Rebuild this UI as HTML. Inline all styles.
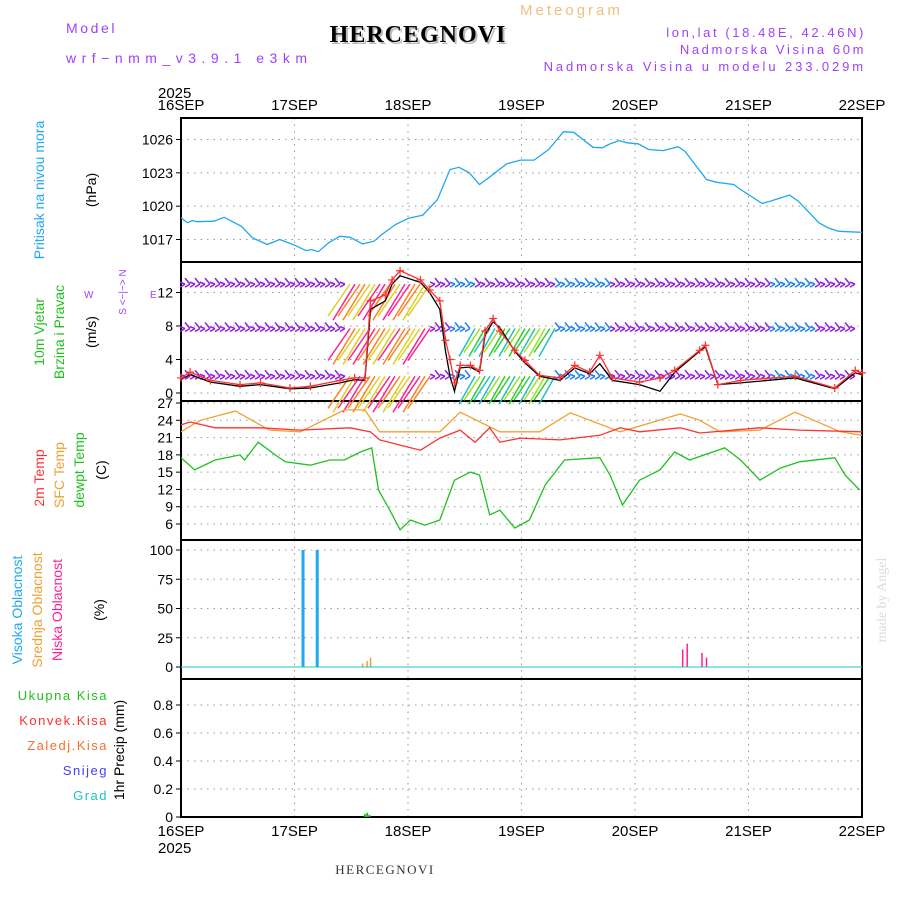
<!DOCTYPE html>
<html><head><meta charset="utf-8"><style>
body{margin:0;background:#fff;}
svg{display:block;font-family:"Liberation Sans",sans-serif;}
</style></head><body>
<svg id="c" width="900" height="900" xmlns="http://www.w3.org/2000/svg">
<g>
<text x="66" y="33" font-size="14" fill="#a040ff" letter-spacing="2.6">Model</text>
<text x="66" y="63" font-size="14" fill="#a040ff" letter-spacing="5.5">wrf−nmm_v3.9.1 e3km</text>
<text x="520" y="15" font-size="15" fill="#f0c080" letter-spacing="3">Meteogram</text>
<text x="420" y="44" font-size="24" font-weight="bold" font-family="Liberation Serif,serif" fill="#bbb" text-anchor="middle" letter-spacing="1">HERCEGNOVI</text>
<text x="418" y="42" font-size="24" font-weight="bold" font-family="Liberation Serif,serif" fill="#000" text-anchor="middle" letter-spacing="1">HERCEGNOVI</text>
<text x="866" y="37" font-size="13" fill="#a040ff" text-anchor="end" letter-spacing="2.6">lon,lat (18.48E, 42.46N)</text>
<text x="866" y="54" font-size="13" fill="#a040ff" text-anchor="end" letter-spacing="2.6">Nadmorska Visina 60m</text>
<text x="866" y="71" font-size="13" fill="#a040ff" text-anchor="end" letter-spacing="2.9">Nadmorska Visina u modelu 233.029m</text>
<text x="158" y="98" font-size="15">2025</text>
<text x="158" y="853" font-size="15">2025</text>
<text x="385" y="874" font-size="13" font-family="Liberation Serif,serif" fill="#333" text-anchor="middle" letter-spacing="1.5">HERCEGNOVI</text>
<text transform="translate(886,600) rotate(-90)" font-size="14" font-family="Liberation Serif,serif" fill="#d8e0d8" text-anchor="middle">made by Angel</text>
</g>
<g id="axes"></g>
<g id="marks"></g>
<g font-size="14">
<text transform="translate(44,190) rotate(-90)" fill="#20a8f0" text-anchor="middle">Pritisak na nivou mora</text>
<text transform="translate(96,190) rotate(-90)" text-anchor="middle">(hPa)</text>
<text transform="translate(44,332) rotate(-90)" fill="#20c020" text-anchor="middle">10m Vjetar</text>
<text transform="translate(64,332) rotate(-90)" fill="#20c020" text-anchor="middle">Brzina i Pravac</text>
<text transform="translate(96,332) rotate(-90)" text-anchor="middle">(m/s)</text>
<text transform="translate(126,292) rotate(-90)" font-size="10" fill="#a040ff" text-anchor="middle">S &lt;−|−&gt; N</text>
<text x="84" y="298" font-size="10" fill="#a040ff">W</text>
<text x="150" y="298" font-size="10" fill="#a040ff">E</text>
<text transform="translate(44,478) rotate(-90)" fill="#ff3030" text-anchor="middle">2m Temp</text>
<text transform="translate(64,475) rotate(-90)" fill="#f0a030" text-anchor="middle">SFC Temp</text>
<text transform="translate(84,470) rotate(-90)" fill="#20c020" text-anchor="middle">dewpt Temp</text>
<text transform="translate(106,470) rotate(-90)" text-anchor="middle">(C)</text>
<text transform="translate(22,610) rotate(-90)" fill="#20a8f0" text-anchor="middle">Visoka Oblacnost</text>
<text transform="translate(42,610) rotate(-90)" fill="#f0a030" text-anchor="middle">Srednja Oblacnost</text>
<text transform="translate(62,610) rotate(-90)" fill="#ff2090" text-anchor="middle">Niska Oblacnost</text>
<text transform="translate(104,610) rotate(-90)" text-anchor="middle">(%)</text>
<g font-size="13">
<text x="108" y="700" fill="#20c020" text-anchor="end" letter-spacing="1.5">Ukupna Kisa</text>
<text x="108" y="725" fill="#ff3030" text-anchor="end" letter-spacing="1.5">Konvek.Kisa</text>
<text x="108" y="750" fill="#f07030" text-anchor="end" letter-spacing="1.5">Zaledj.Kisa</text>
<text x="108" y="775" fill="#4040ff" text-anchor="end" letter-spacing="1.5">Snijeg</text>
<text x="108" y="800" fill="#20c0c0" text-anchor="end" letter-spacing="1.5">Grad</text>
</g>
<text transform="translate(124,750) rotate(-90)" text-anchor="middle">1hr Precip (mm)</text>
</g>
</svg>
<script>
const dayLabels=["16SEP","17SEP","18SEP","19SEP","20SEP","21SEP","22SEP"];
const presT=[0,.056,.1,.14,.29,.38,.53,.63,.76,.87,1.0,1.1,1.15,1.21,1.30,1.40,1.49,1.6,1.7,1.77,1.89,2.0,2.13,2.26,2.37,2.45,2.54,2.63,2.71,2.87,2.99,3.11,3.24,3.37,3.46,3.63,3.71,3.78,3.86,3.93,4.03,4.12,4.25,4.38,4.44,4.63,4.72,4.87,4.93,5.12,5.19,5.36,5.44,5.62,5.70,5.79,5.87,6.0];
const presV=[1018.95,1018.5,1018.7,1018.6,1018.65,1019.0,1018.2,1017.15,1016.55,1017,1016.5,1016.0,1016.1,1015.9,1016.7,1017.3,1017.2,1016.6,1016.85,1017.45,1018.35,1018.9,1019.2,1020.6,1023.3,1023.5,1023.0,1021.95,1022.55,1023.8,1024.15,1024.15,1025.1,1026.7,1026.65,1025.3,1025.25,1025.6,1025.9,1025.7,1025.6,1025.1,1025.0,1025.35,1024.95,1022.4,1022.15,1021.95,1021.5,1020.25,1020.45,1021,1020.45,1018.5,1018.05,1017.75,1017.7,1017.65];
const windT=[0,.08,.26,.52,.70,.96,1.14,1.40,1.53,1.62,1.67,1.80,1.86,1.93,2.11,2.19,2.28,2.33,2.37,2.41,2.46,2.55,2.63,2.68,2.75,2.81,2.94,3.03,3.16,3.34,3.47,3.60,3.69,3.80,4.04,4.22,4.35,4.57,4.62,4.73,4.93,5.41,5.76,5.94,6];
const windV=[1.8,2.5,1.5,1.0,1.2,.6,.8,1.5,1.8,1.8,11,11.7,13.5,14.6,13.5,12.3,11,6.3,4,1.2,3.3,3.3,2.7,7.4,8.9,7.4,5.1,3.9,2.1,1.8,3.3,2.5,4.5,1.8,1.3,1.8,2.7,5.1,5.7,1,1.5,2.0,.6,2.7,2.4];
const gustV=[1.6,2.2,1.3,0.8,1.0,.5,.6,1.2,1.6,1.5,10,11,13,14,13.2,12,10,5,2,0.2,3,3.1,2.5,7,8.5,7.8,5,3.6,2,1.5,3,2.3,3.5,1.5,1.0,0.2,2.5,5,5.5,1,1.2,1.8,.5,2.4,2.2];
const t2T=[0,.08,.30,.70,1.05,1.49,1.67,1.75,1.93,2.11,2.28,2.46,2.59,2.72,2.81,2.99,3.34,3.69,3.87,4.04,4.40,4.57,5.10,5.45,6.0];
const t2V=[23.2,23.7,22.7,22.7,22.3,22.7,22.0,20.6,19.7,18.8,20.9,22.3,20.2,22.7,20.2,20.9,20.6,21.4,22.7,22.0,22.7,21.8,22.7,22.3,22.0];
const sfcT=[0,.17,.48,.78,1.05,1.44,1.62,1.75,2.28,2.46,2.81,3.16,3.43,3.87,4.40,4.57,4.75,5.10,5.41,5.81,6.0];
const sfcV=[22,24,25.6,22.3,22,25.8,25.8,22,22,25.4,22,22,25.3,22,25.1,24,22,22.3,25.4,22,21.4];
const dewT=[0,.12,.30,.52,.56,.68,.83,.92,1.14,1.31,1.44,1.58,1.68,1.74,1.84,1.93,2.02,2.15,2.28,2.41,2.55,2.63,2.72,2.81,2.94,3.07,3.21,3.38,3.69,3.78,3.89,4.04,4.22,4.35,4.48,4.79,4.93,5.10,5.28,5.45,5.76,5.85,5.98];
const dewV=[17.5,15.4,17.1,18,17.1,20.2,18,16.8,16.2,17.1,17.1,18.5,19.2,11.9,8.4,5,6.7,5.8,6.7,13.6,15,14.5,7.6,8.4,5.3,6.7,12.8,17.1,17.5,14.5,9.3,13.6,15.4,18.5,17.1,19.2,17.1,13.6,15.7,16.8,17.5,14.5,11.9];
const highCloudT=[1.075,1.2];const highCloudV=[100,100];
const midCloudT=[1.6,1.64,1.67];const midCloudV=[3,5,8];
const lowCloudT=[4.42,4.46,4.59,4.63];const lowCloudV=[15,20,12,8];
const precipT=[1.62,1.64,1.66];const precipV=[0.02,0.03,0.015];
const presTicks=[1017,1020,1023,1026],windTicks=[0,4,8,12],tempTicks=[6,9,12,15,18,21,24,27],cloudTicks=[0,25,50,75,100],precipTicks=[0,0.2,0.4,0.6,0.8];

const NS="http://www.w3.org/2000/svg";
const X0=181,X1=862;
const x=d=>X0+(X1-X0)*d/6;
const lin=(v0,y0,v1,y1)=>v=>y0+(v-v0)*(y1-y0)/(v1-v0);
const yP=lin(1017,239.5,1026,139.5),yW=lin(0,393,12,292.5),yT=lin(6,524,27,403),yC=lin(0,667,100,550),yR=lin(0,817,0.8,705);
const axes=document.getElementById('axes'),marks=document.getElementById('marks');
function el(tag,attrs,parent){const e=document.createElementNS(NS,tag);for(const k in attrs)e.setAttribute(k,attrs[k]);(parent||marks).appendChild(e);return e;}
const panels=[[118,262,presTicks,yP,'pressure'],[262,401,windTicks,yW,'wind'],[401,540,tempTicks,yT,'temp'],[540,679,cloudTicks,yC,'cloud'],[679,817,precipTicks,yR,'precip']];
panels.forEach(([t,b,ticks,f,nm])=>{
  for(let i=1;i<6;i++){const g=el('line',{x1:x(i),x2:x(i),y1:t,y2:b,stroke:'#999','stroke-dasharray':'1.5,5'},axes);
    }
  ticks.forEach(v=>{const y=f(v);
    const g=el('line',{x1:X0,x2:X1,y1:y,y2:y,stroke:'#999','stroke-dasharray':'1.5,5'},axes);
    
    const tk=el('line',{x1:X0-5,x2:X0,y1:y,y2:y,stroke:'#000'},axes);
    
    const lb=el('text',{x:X0-8,y:y+5,'font-size':14,'text-anchor':'end'},axes);lb.textContent=v;
    });
  const r=el('rect',{x:X0,y:t,width:X1-X0,height:b-t,fill:'none',stroke:'#000','stroke-width':2},axes);
  
});
dayLabels.forEach((s,i)=>{[[110,'top'],[836,'bottom']].forEach(([y,p])=>{
  const l=el('text',{x:x(i),y:y,'font-size':15,'text-anchor':'middle'},axes);l.textContent=s;
  });});
function line(T,V,f,col,name,w){const d=T.map((t,i)=>(i?'L':'M')+x(t).toFixed(1)+','+f(V[i]).toFixed(1)).join('');
  const p=el('path',{d:d,fill:'none',stroke:col,'stroke-width':w||1.3});return p;}
line(presT,presV,yP,'#20a8f0','pressure-line');
const rows=[yW(13),yW(7.7),yW(2)];
for(let px=X0+4;px<X1-4;px+=5){rows.forEach((ry,ri)=>{
  const d=(px-X0)/(X1-X0)*6;let col='#9020e0',dx=-5,dy=-4;
  if(d>1.45&&d<2.2){col=['#ff2090','#ff8020','#e0d020'][(ri+Math.floor(px/9))%3];dx=-22;dy=34;}
  else if(d>2.55&&d<3.3&&ri>0){col=['#30d030','#20c0c0','#a0e020'][Math.floor(px/7)%3];dx=-16;dy=26;}
  else if((d>3.3&&d<3.8)||(d>2.4&&d<2.6)||(d>5.2&&d<5.6)){col='#2080f0';}
  const b=el('line',{x1:px,y1:ry,x2:px+dx,y2:ry+dy+(px%2?2:-2),stroke:col,'stroke-width':1.5});
  
  if(Math.abs(dy)<10){const b2=el('line',{x1:px,y1:ry,x2:px-5,y2:ry+3,stroke:col,'stroke-width':1.5});
  }});}
line(windT,gustV,yW,'#000','wind-gust-line',1.3);
line(windT,windV,yW,'#ff3030','wind-speed-line',1.3);
windT.forEach((t,i)=>{const cx=x(t),cy=yW(windV[i]);
  const m=el('path',{d:`M${cx-4},${cy}h8M${cx},${cy-4}v8`,stroke:'#ff3030','stroke-width':1.2});
  });
line(sfcT,sfcV,yT,'#f0a030','sfc-temp-line');
line(t2T,t2V,yT,'#ff3030','temp-2m-line');
line(dewT,dewV,yT,'#20c020','dewpoint-line');
function bars(T,V,f,col,w,name){T.forEach((t,i)=>{const y=f(V[i]),y0=f(0);
  const r=el('rect',{x:x(t)-w/2,y:y,width:w,height:y0-y,fill:col});});}
bars(highCloudT,highCloudV,yC,'#20a8f0',3,'high-cloud-bar');
bars(midCloudT,midCloudV,yC,'#f0a030',1.5,'mid-cloud-bar');
bars(lowCloudT,lowCloudV,yC,'#ff2090',1.5,'low-cloud-bar');
bars(precipT,precipV,yR,'#20c020',2,'precip-bar');
const base=el('line',{x1:X0,x2:X1,y1:yC(0),y2:yC(0),stroke:'#20c0c0','stroke-width':1});
</script>
</body></html>
